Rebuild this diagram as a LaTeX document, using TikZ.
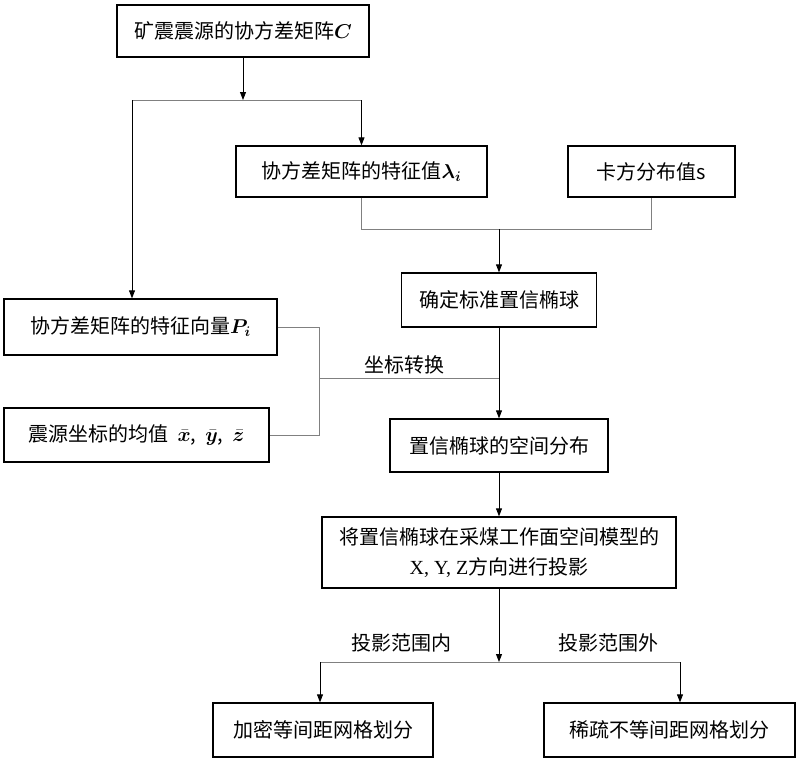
\RequirePackage{fix-cm}
\documentclass[tikz,border=0pt]{standalone}
\usepackage{amsmath,bm}
\usepackage{fontspec}
\setmainfont{Liberation Serif}
\newfontfamily\cjk{Noto Sans CJK SC}
\newfontfamily\lat{Liberation Serif}
\usetikzlibrary{arrows.meta}
\begin{document}
\begin{tikzpicture}[x=1pt,y=-1pt,
  box/.style={draw, line width=1.3pt, inner sep=0pt, align=center, font=\cjk\fontsize{20}{30}\selectfont},
  lbl/.style={inner sep=0pt, font=\cjk\fontsize{20}{24}\selectfont},
  arr/.style={draw=black, line width=0.9pt, -{Triangle[length=8pt,width=6pt]}},
  gl/.style={draw=gray, line width=0.9pt}]
\fill[white] (0,0) rectangle (800,764);
\useasboundingbox (0,0) rectangle (800,764);

\node[box, minimum width=252pt, minimum height=52pt] (top) at (243,31) {矿震震源的协方差矩阵$\bm{C}$};
\node[box, minimum width=251pt, minimum height=51pt] (eigval) at (361.5,171.5) {协方差矩阵的特征值$\bm{\lambda}_{\bm{i}}$};
\node[box, minimum width=167pt, minimum height=51pt] (chi) at (651.5,171.5) {卡方分布值s};
\node[box, minimum width=195pt, minimum height=54pt] (std) at (499,300) {确定标准置信椭球};
\node[box, minimum width=273pt, minimum height=56pt] (eigvec) at (140.5,327) {协方差矩阵的特征向量$\bm{P_i}$};
\node[box, minimum width=265pt, minimum height=54pt] (mean) at (136.5,435) {震源坐标的均值\ \ $\bar{\bm{x}}$,\ \ $\bar{\bm{y}}$,\ \ $\bar{\bm{z}}$};
\node[box, minimum width=218pt, minimum height=53pt] (space) at (499,445.5) {置信椭球的空间分布};
\node[box, minimum width=354pt, minimum height=71pt] (proj) at (499,552.5) {将置信椭球在采煤工作面空间模型的\\{\lat X, Y, Z}方向进行投影};
\node[box, minimum width=220pt, minimum height=54pt] (dense) at (323,730) {加密等间距网格划分};
\node[box, minimum width=251pt, minimum height=54pt] (sparse) at (669.5,730) {稀疏不等间距网格划分};

\node[lbl] (l1) at (404,365) {坐标转换};
\node[lbl] (l2) at (401,643) {投影范围内};
\node[lbl] (l3) at (608,643) {投影范围外};

% top split
\coordinate (j1) at (243,100);
\coordinate (jL) at (132,100);
\coordinate (jR) at (eigval.north |- j1);
\draw[gl] (jL) -- (jR);
\draw[arr] (top.south) -- (j1);
\draw[arr] (jR) -- (eigval.north);
\draw[arr] (jL) -- (jL |- eigvec.north);

% merge eigenvalue + chi-square
\coordinate (j2) at (499,229);
\draw[gl] (eigval.south) -- (eigval.south |- j2) -- (chi.south |- j2) -- (chi.south);
\draw[arr] (std.north |- j2) -- (std.north);

% coordinate transform
\coordinate (j3a) at (319,327);
\coordinate (j3b) at (319,435);
\coordinate (j3c) at (319,378);
\draw[gl] (eigvec.east) -- (j3a) -- (j3b) -- (mean.east);
\draw[gl] (j3c) -- (std.south |- j3c);
\draw[arr] (std.south) -- (space.north);
\draw[arr] (space.south) -- (proj.north);

% projection split
\coordinate (j4) at (499,662);
\coordinate (j4L) at (320,662);
\coordinate (j4R) at (680,662);
\draw[arr] (proj.south) -- (j4);
\draw[gl] (j4L) -- (j4R);
\draw[arr] (j4L) -- (j4L |- dense.north);
\draw[arr] (j4R) -- (j4R |- sparse.north);
\end{tikzpicture}
\end{document}
